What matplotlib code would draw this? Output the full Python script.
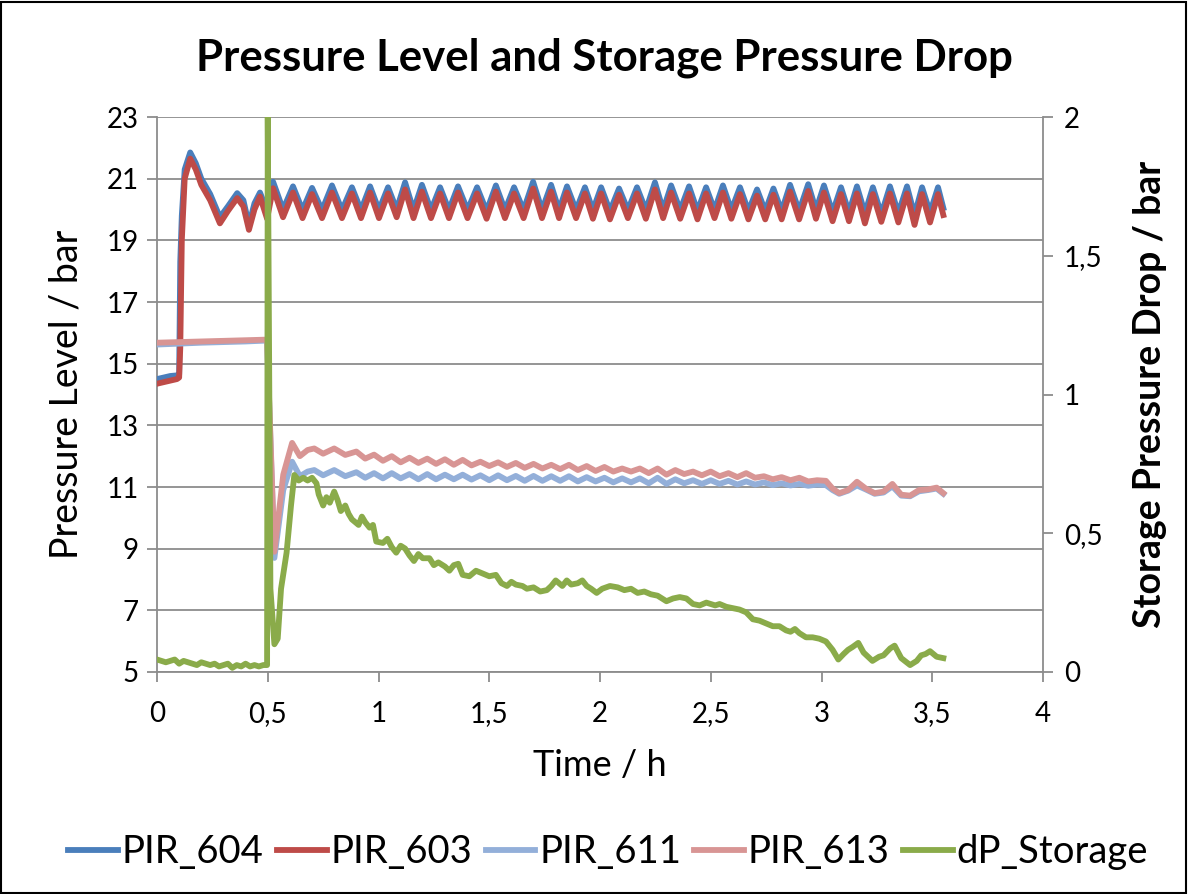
import matplotlib
matplotlib.use("Agg")
import matplotlib.pyplot as plt
from matplotlib.patches import Rectangle
from matplotlib.ticker import FuncFormatter
from matplotlib.lines import Line2D

# ---------------- data ----------------
title = "Pressure Level and Storage Pressure Drop"
x_label = "Time / h"
y_label_left = "Pressure Level / bar"
y_label_right = "Storage Pressure Drop / bar"
series_names = ["PIR_604", "PIR_603", "PIR_611", "PIR_613", "dP_Storage"]

# time base for PIR_604 / PIR_603 (start-up, then peaks/troughs of the oscillation)
t_hi = [0.0, 0.03, 0.06, 0.09, 0.10, 0.105, 0.112, 0.125, 0.15, 0.175, 0.20, 0.24,
        0.284, 0.32, 0.362, 0.39, 0.415, 0.44, 0.465, 0.497,
        0.524, 0.569, 0.614, 0.657, 0.700, 0.745, 0.790, 0.835, 0.880, 0.921,
        0.962, 1.002, 1.043, 1.082, 1.120, 1.158, 1.196, 1.237, 1.278, 1.318,
        1.359, 1.402, 1.445, 1.488, 1.530, 1.571, 1.612, 1.655, 1.698, 1.738,
        1.779, 1.815, 1.851, 1.892, 1.932, 1.968, 2.005, 2.045, 2.086, 2.126,
        2.167, 2.207, 2.248, 2.285, 2.321, 2.362, 2.402, 2.440, 2.479, 2.517,
        2.555, 2.593, 2.632, 2.670, 2.709, 2.746, 2.783, 2.820, 2.858, 2.899,
        2.940, 2.975, 3.011, 3.050, 3.088, 3.124, 3.160, 3.196, 3.232, 3.270,
        3.309, 3.347, 3.386, 3.420, 3.454, 3.490, 3.526, 3.550]

pir_604 = [14.50, 14.55, 14.60, 14.62, 14.65, 18.30, 19.80, 21.30, 21.85, 21.50, 21.00, 20.50,
           19.75, 20.10, 20.53, 20.30, 19.50, 20.20, 20.55, 19.95,
           20.90, 20.00, 20.75, 19.98, 20.70, 19.98, 20.78, 19.98, 20.72, 19.98,
           20.75, 19.98, 20.72, 20.00, 20.88, 19.98, 20.80, 19.98, 20.72, 19.98,
           20.75, 19.98, 20.72, 19.95, 20.78, 19.98, 20.72, 19.98, 20.90, 19.98,
           20.80, 19.98, 20.75, 19.98, 20.72, 19.98, 20.72, 19.95, 20.68, 19.98,
           20.72, 19.98, 20.88, 19.98, 20.78, 19.98, 20.75, 19.95, 20.72, 19.98,
           20.78, 19.98, 20.72, 19.95, 20.65, 19.95, 20.68, 19.95, 20.80, 19.95,
           20.82, 19.98, 20.78, 19.90, 20.72, 19.90, 20.75, 19.88, 20.72, 19.85,
           20.75, 19.88, 20.75, 19.82, 20.72, 19.90, 20.72, 20.05]

pir_603 = [14.35, 14.40, 14.45, 14.50, 14.55, 15.50, 19.00, 21.00, 21.65, 21.30, 20.80, 20.30,
           19.55, 19.95, 20.37, 20.10, 19.34, 20.00, 20.42, 19.70,
           20.69, 19.75, 20.55, 19.72, 20.50, 19.72, 20.55, 19.72, 20.52, 19.72,
           20.55, 19.72, 20.52, 19.75, 20.65, 19.72, 20.58, 19.72, 20.52, 19.72,
           20.55, 19.72, 20.52, 19.70, 20.58, 19.72, 20.52, 19.72, 20.68, 19.72,
           20.58, 19.72, 20.55, 19.72, 20.52, 19.70, 20.52, 19.68, 20.48, 19.72,
           20.52, 19.70, 20.65, 19.72, 20.55, 19.70, 20.52, 19.68, 20.52, 19.72,
           20.55, 19.70, 20.50, 19.68, 20.45, 19.68, 20.48, 19.68, 20.58, 19.68,
           20.60, 19.70, 20.55, 19.62, 20.50, 19.62, 20.52, 19.55, 20.50, 19.60,
           20.52, 19.58, 20.52, 19.50, 20.50, 19.58, 20.50, 19.82]

# time base for PIR_611 / PIR_613
t_lo = [0.0, 0.1, 0.2, 0.3, 0.4, 0.497, 0.53, 0.57, 0.61, 0.645, 0.68, 0.71, 0.75,
        0.80, 0.85, 0.90, 0.94, 0.98, 1.02, 1.06, 1.10, 1.14, 1.18, 1.22, 1.26,
        1.30, 1.34, 1.38, 1.42, 1.46, 1.50, 1.54, 1.58, 1.62, 1.66, 1.70, 1.74,
        1.78, 1.82, 1.86, 1.90, 1.94, 1.98, 2.02, 2.06, 2.10, 2.14, 2.18, 2.22,
        2.26, 2.30, 2.34, 2.38, 2.42, 2.46, 2.50, 2.54, 2.58, 2.62, 2.66, 2.70,
        2.74, 2.78, 2.82, 2.86, 2.90, 2.94, 2.98, 3.02, 3.05, 3.08, 3.12, 3.16,
        3.20, 3.24, 3.28, 3.32, 3.36, 3.40, 3.44, 3.48, 3.52, 3.55]

pir_611 = [15.62, 15.65, 15.68, 15.70, 15.72, 15.75, 8.70, 10.90, 11.82, 11.35, 11.50, 11.55, 11.38,
           11.55, 11.35, 11.48, 11.30, 11.45, 11.28, 11.45, 11.28, 11.42, 11.25, 11.42, 11.25,
           11.40, 11.25, 11.40, 11.24, 11.38, 11.22, 11.38, 11.22, 11.36, 11.20, 11.36, 11.20,
           11.35, 11.20, 11.35, 11.18, 11.32, 11.18, 11.30, 11.15, 11.28, 11.15, 11.28, 11.12,
           11.30, 11.10, 11.25, 11.12, 11.22, 11.10, 11.22, 11.10, 11.20, 11.08, 11.18, 11.08,
           11.15, 11.06, 11.12, 11.05, 11.10, 11.04, 11.08, 11.06, 10.90, 10.78, 10.88, 11.05,
           10.92, 10.78, 10.82, 11.02, 10.72, 10.70, 10.86, 10.90, 10.95, 10.78]

pir_613 = [15.68, 15.70, 15.72, 15.74, 15.76, 15.78, 8.90, 11.40, 12.43, 12.00, 12.20, 12.25, 12.08,
           12.25, 12.04, 12.15, 11.92, 12.05, 11.85, 12.00, 11.80, 11.95, 11.78, 11.92, 11.75,
           11.90, 11.72, 11.88, 11.70, 11.82, 11.68, 11.80, 11.65, 11.78, 11.62, 11.75, 11.60,
           11.72, 11.58, 11.72, 11.55, 11.68, 11.52, 11.65, 11.50, 11.60, 11.50, 11.60, 11.45,
           11.60, 11.40, 11.55, 11.42, 11.50, 11.38, 11.50, 11.35, 11.45, 11.32, 11.45, 11.30,
           11.35, 11.25, 11.32, 11.22, 11.30, 11.18, 11.22, 11.20, 10.95, 10.80, 10.90, 11.17,
           10.95, 10.80, 10.85, 11.10, 10.75, 10.72, 10.90, 10.92, 10.98, 10.80]

# dP_Storage (secondary axis)
t_dp = [0.0, 0.02, 0.04, 0.06, 0.08, 0.10, 0.12, 0.14, 0.16, 0.18, 0.20, 0.22, 0.24,
        0.26, 0.28, 0.30, 0.32, 0.34, 0.36, 0.38, 0.40, 0.42, 0.44, 0.46, 0.48, 0.497,
        0.500, 0.512, 0.53, 0.545, 0.56, 0.585, 0.605, 0.62, 0.64, 0.66, 0.68, 0.70,
        0.72, 0.73, 0.75, 0.765, 0.78, 0.80, 0.815, 0.83, 0.85, 0.865, 0.88, 0.91,
        0.925, 0.94, 0.96, 0.975, 0.99, 1.02, 1.04, 1.06, 1.08, 1.10, 1.12, 1.14,
        1.16, 1.18, 1.20, 1.23, 1.25, 1.27, 1.30, 1.32, 1.34, 1.36, 1.38, 1.41,
        1.44, 1.47, 1.50, 1.53, 1.555, 1.58, 1.60, 1.62, 1.65, 1.67, 1.70, 1.73,
        1.76, 1.78, 1.80, 1.83, 1.85, 1.87, 1.90, 1.92, 1.94, 1.96, 1.985, 2.01,
        2.045, 2.08, 2.11, 2.14, 2.17, 2.20, 2.23, 2.26, 2.30, 2.33, 2.36, 2.39,
        2.42, 2.45, 2.48, 2.50, 2.52, 2.54, 2.57, 2.60, 2.63, 2.66, 2.69, 2.72,
        2.75, 2.78, 2.81, 2.84, 2.86, 2.88, 2.90, 2.93, 2.96, 2.99, 3.02, 3.05,
        3.076, 3.10, 3.12, 3.14, 3.166, 3.19, 3.23, 3.26, 3.28, 3.31, 3.33, 3.36,
        3.40, 3.43, 3.45, 3.47, 3.49, 3.52, 3.55]

dp_storage = [0.045, 0.040, 0.035, 0.040, 0.045, 0.030, 0.040, 0.035, 0.030, 0.025, 0.035, 0.030, 0.025,
              0.030, 0.020, 0.025, 0.030, 0.015, 0.025, 0.020, 0.030, 0.020, 0.025, 0.020, 0.025, 0.025,
              2.000, 0.300, 0.100, 0.120, 0.300, 0.430, 0.600, 0.710, 0.690, 0.700, 0.690, 0.700,
              0.680, 0.640, 0.600, 0.630, 0.610, 0.650, 0.620, 0.580, 0.600, 0.570, 0.550, 0.530,
              0.560, 0.540, 0.520, 0.530, 0.470, 0.465, 0.480, 0.450, 0.430, 0.455, 0.445, 0.420,
              0.400, 0.425, 0.410, 0.410, 0.385, 0.395, 0.380, 0.365, 0.385, 0.390, 0.350, 0.345,
              0.365, 0.355, 0.345, 0.350, 0.320, 0.310, 0.325, 0.315, 0.310, 0.300, 0.305, 0.290,
              0.295, 0.310, 0.330, 0.310, 0.330, 0.315, 0.320, 0.330, 0.310, 0.300, 0.285, 0.300,
              0.310, 0.305, 0.295, 0.300, 0.285, 0.290, 0.280, 0.275, 0.255, 0.265, 0.270, 0.265,
              0.245, 0.240, 0.250, 0.245, 0.240, 0.245, 0.235, 0.230, 0.225, 0.215, 0.190, 0.185,
              0.175, 0.165, 0.165, 0.150, 0.145, 0.155, 0.140, 0.125, 0.125, 0.120, 0.110, 0.080,
              0.045, 0.065, 0.080, 0.090, 0.105, 0.070, 0.040, 0.055, 0.060, 0.085, 0.095, 0.050,
              0.025, 0.040, 0.060, 0.065, 0.075, 0.055, 0.050]

x_ticks = [0, 0.5, 1, 1.5, 2, 2.5, 3, 3.5, 4]
y_ticks_left = [5, 7, 9, 11, 13, 15, 17, 19, 21, 23]
y_ticks_right = [0, 0.5, 1, 1.5, 2]

colors = ["#4A7EBB", "#BE4B48", "#93AFD9", "#D89594", "#8AAB4A"]

# ---------------- figure ----------------
plt.rcParams['font.family'] = ['Lato', 'DejaVu Sans']

W, H = 1188, 894
fig = plt.figure(figsize=(W / 100, H / 100), dpi=100)
fig.patches.append(Rectangle((0.001, 0.001), 0.997, 0.997, transform=fig.transFigure,
                             fill=False, edgecolor="black", linewidth=1.5))

L, R, T, B = 157, 1043, 117, 672
ax = fig.add_axes([L / W, 1 - B / H, (R - L) / W, (B - T) / H])
ax2 = ax.twinx()

grid_c = "#8C8C8C"
lw = 4.2
ax.plot(t_hi, pir_604, color=colors[0], lw=lw, solid_joinstyle="round", zorder=3)
ax.plot(t_hi, pir_603, color=colors[1], lw=lw, solid_joinstyle="round", zorder=4)
ax.plot(t_lo, pir_611, color=colors[2], lw=lw, solid_joinstyle="round", zorder=5)
ax.plot(t_lo, pir_613, color=colors[3], lw=lw, solid_joinstyle="round", zorder=6)
ax2.plot(t_dp, dp_storage, color=colors[4], lw=lw, solid_joinstyle="round")

ax.set_xlim(0, 4)
ax.set_ylim(5, 23)
ax2.set_ylim(0, 2)
ax.set_xticks(x_ticks)
ax.set_yticks(y_ticks_left)
ax2.set_yticks(y_ticks_right)

fmt = FuncFormatter(lambda v, p: f"{v:g}".replace(".", ","))
ax.xaxis.set_major_formatter(fmt)
ax2.yaxis.set_major_formatter(fmt)

ax.grid(axis="y", color=grid_c, lw=1.3)
ax.set_axisbelow(True)
for a in (ax, ax2):
    a.spines["top"].set_visible(False)
    for s in ("left", "right", "bottom"):
        a.spines[s].set_color(grid_c)
        a.spines[s].set_linewidth(1.3)
ax.spines["right"].set_visible(False)
ax2.spines["left"].set_visible(False)
ax2.spines["bottom"].set_visible(False)

tick_fs = 20
ax.tick_params(axis="y", direction="out", length=7, width=1.3, color=grid_c,
               labelsize=tick_fs, labelcolor="black", pad=6)
ax.tick_params(axis="x", direction="out", length=7, width=1.3, color=grid_c,
               labelsize=tick_fs, labelcolor="black", pad=14)
ax2.tick_params(axis="y", direction="out", length=7, width=1.3, color=grid_c,
                labelsize=tick_fs, labelcolor="black", pad=8)

ax.set_xlabel(x_label, fontsize=26, labelpad=16)
ax.set_ylabel(y_label_left, fontsize=27, labelpad=16)
ax2.set_ylabel(y_label_right, fontsize=27, fontweight="bold", labelpad=22)

fig.text(0.5 * (L + R) / W + 0.004, 1 - 58 / H, title, ha="center", va="center",
         fontsize=31.5, fontweight="bold")

handles = [Line2D([0], [0], color=c, lw=lw) for c in colors]
fig.legend(handles, series_names, loc="center", bbox_to_anchor=(0.512, 1 - 852 / H),
           ncol=5, frameon=False, fontsize=27.5, handlelength=1.3,
           handletextpad=0.1, columnspacing=0.35)

fig.savefig("out.png", dpi=100)
